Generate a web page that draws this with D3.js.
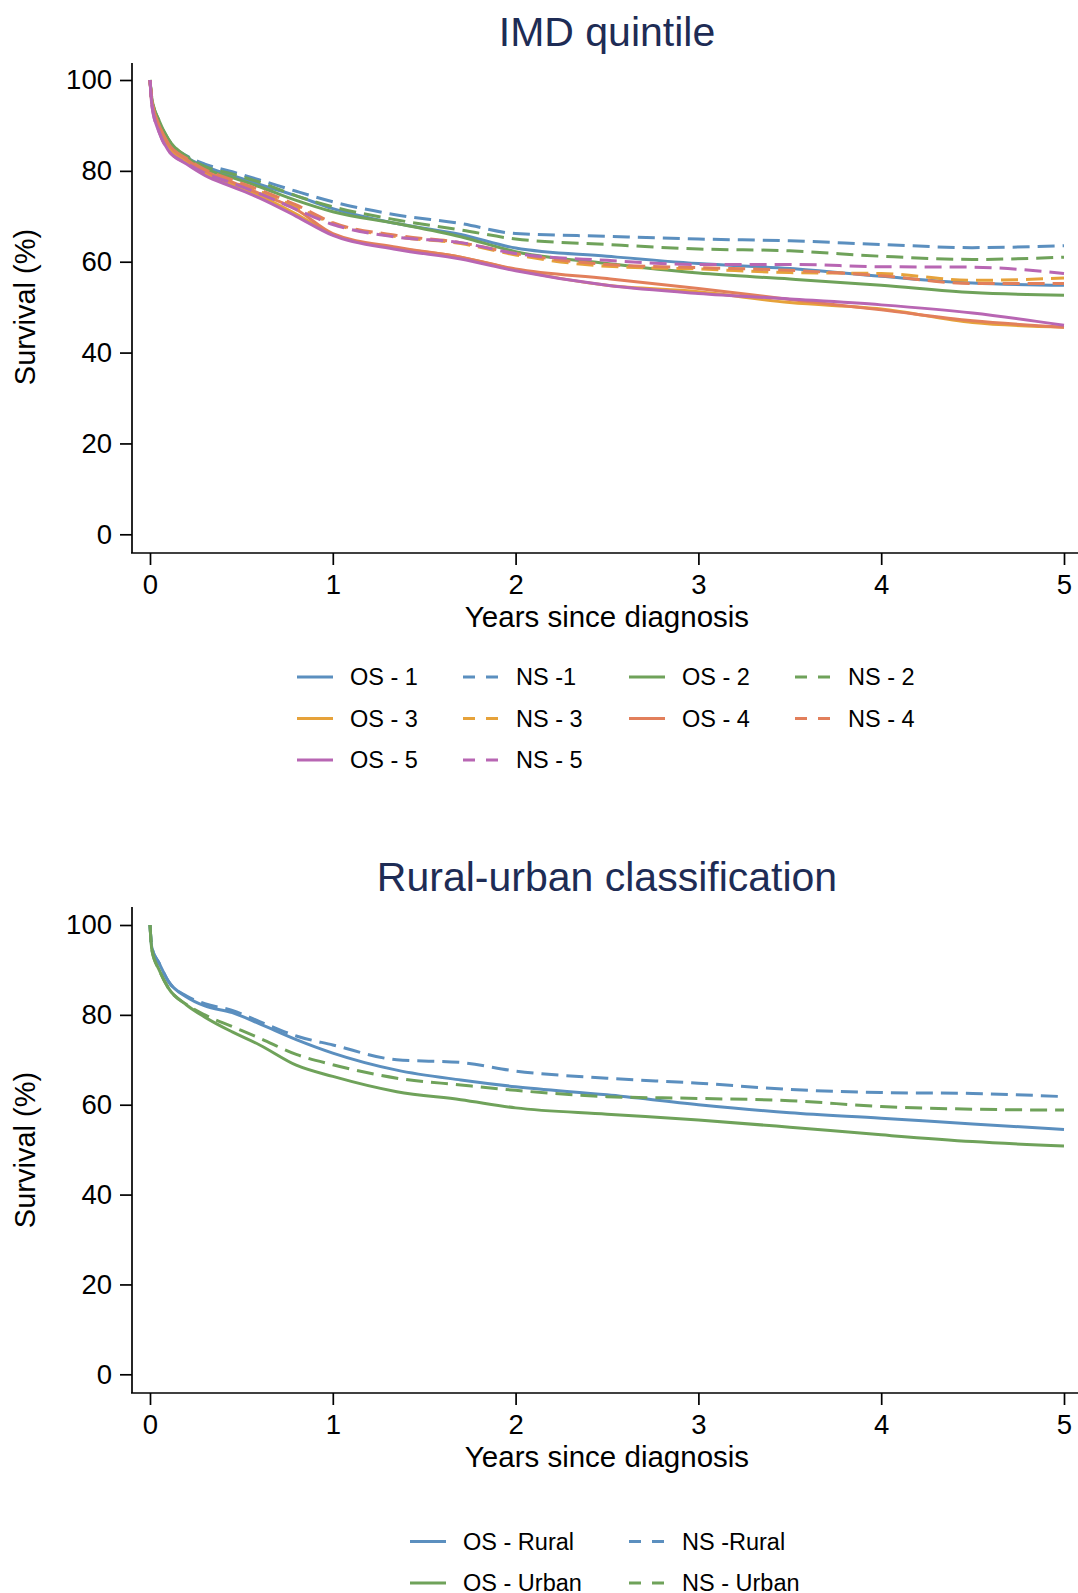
<!DOCTYPE html>
<html>
<head>
<meta charset="utf-8">
<script src="https://cdn.jsdelivr.net/npm/d3@7"></script>
<style>
  body { margin: 0; background: #fff; }
  svg { display: block; font-family: "Liberation Sans", Arial, Helvetica, sans-serif; }
</style>
</head>
<body>
<svg id="chart" width="1078" height="1593"></svg>
<script>
var years = [0, 0.01, 0.05, 0.1, 0.2, 0.3, 0.45, 0.6, 0.8, 1, 1.35, 1.7, 2, 2.5, 3, 3.5, 4, 4.5, 5];

// IMD quintile: overall (OS) and net (NS) survival, %
var os1 = [100, 95.5, 90.5, 86.5, 83, 81, 79, 77, 74.5, 71.7, 68.4, 66, 63, 61.2, 59.6, 58.5, 56.8, 55.3, 54.8];
var ns1 = [100, 95.5, 90.5, 86.5, 83.3, 81.5, 79.8, 78, 75.5, 73.2, 70.3, 68.4, 66.2, 65.6, 65.0, 64.6, 63.8, 63.1, 63.5];
var os2 = [100, 96, 91, 87, 83, 80.5, 78.5, 76.5, 73.5, 71, 68.4, 65.5, 62.2, 59.6, 57.5, 56.2, 54.8, 53.2, 52.6];
var ns2 = [100, 96, 91, 87, 83.2, 81, 79.3, 77.5, 74.5, 72.1, 69.2, 67, 65, 63.8, 62.8, 62.4, 61.2, 60.5, 61.0];
var os3 = [100, 95, 89.5, 85.5, 82, 79.5, 77, 74.5, 70.5, 66, 63, 61, 58.2, 54.8, 53.4, 51.0, 49.6, 46.6, 45.6];
var ns3 = [100, 95, 89.5, 85.5, 82.2, 80, 77.5, 75.5, 72, 68.4, 65.5, 64, 61.5, 59.0, 58.4, 57.6, 57.4, 55.9, 56.4];
var os4 = [100, 95.5, 90, 86, 82.5, 80, 77.5, 75, 71.5, 66.2, 63.2, 61, 58.4, 56.3, 54.1, 51.7, 49.4, 47.0, 45.6];
var ns4 = [100, 95.5, 90, 86, 82.7, 80.3, 78, 75.8, 72.5, 68.6, 65.8, 64.2, 61.8, 59.4, 58.7, 58.1, 56.9, 55.2, 55.2];
var os5 = [100, 94.5, 88.5, 84.5, 81.5, 79, 76.5, 74, 70, 65.8, 62.7, 60.6, 58, 54.8, 53.0, 51.8, 50.5, 48.7, 46.0];
var ns5 = [100, 94.5, 88.5, 84.5, 81.7, 79.5, 77.3, 75, 71.5, 68.2, 65.4, 64.2, 61.8, 60.3, 59.4, 59.4, 58.9, 58.8, 57.4];

// rural-urban classification
var osRural = [100, 95, 91.5, 87.5, 84, 82, 80.5, 78, 74.5, 71.5, 67.7, 65.5, 64, 62.2, 60.0, 58.2, 57.0, 55.7, 54.5];
var nsRural = [100, 95, 91.5, 87.5, 84.2, 82.5, 81, 78.5, 75.3, 73.3, 70.0, 69.4, 67.5, 65.9, 64.8, 63.4, 62.7, 62.5, 61.8];
var osUrban = [100, 94.5, 90, 86, 82.2, 79.5, 76.2, 73.3, 68.8, 66.3, 62.9, 61.1, 59.3, 57.9, 56.6, 55.0, 53.3, 51.8, 50.8];
var nsUrban = [100, 94.5, 90, 86, 82.3, 80, 77.4, 74.8, 71.2, 68.9, 65.9, 64.4, 63.2, 61.8, 61.4, 60.9, 59.6, 59.0, 58.8];

var xTicks = [0, 1, 2, 3, 4, 5];
var yTicks = [0, 20, 40, 60, 80, 100];

var imdLabels = ["OS - 1", "NS -1", "OS - 2", "NS - 2", "OS - 3", "NS - 3", "OS - 4", "NS - 4", "OS - 5", "NS - 5"];
var ruralLabels = ["OS - Rural", "NS -Rural", "OS - Urban", "NS - Urban"];

var blue = "#5b8fbf", green = "#6fa25a", orange = "#e6a23a", red = "#e27f5b", purple = "#b866b3";

var svg = d3.select("#chart");

function drawPanel(p) {
    var g = svg.append("g").attr("transform", "translate(0," + p.dy + ")");

    var x = d3.scaleLinear().domain([0, 5]).range([150, 1064]);
    var y = d3.scaleLinear().domain([0, 100]).range([p.y0, p.y100]);

    // title
    g.append("text").attr("x", 607).attr("y", p.titleY)
        .attr("text-anchor", "middle").attr("font-size", 41).attr("fill", "#1e2c55")
        .text(p.title);

    // axes lines
    g.append("line").attr("x1", 132).attr("x2", 132).attr("y1", p.axisTop).attr("y2", 553)
        .attr("stroke", "#000").attr("stroke-width", 1.7);
    g.append("line").attr("x1", 131).attr("x2", 1078).attr("y1", 553).attr("y2", 553)
        .attr("stroke", "#000").attr("stroke-width", 1.7);

    var ya = g.append("g").attr("transform", "translate(132,0)")
        .call(d3.axisLeft(y).tickValues(yTicks).tickSize(12).tickPadding(8).tickFormat(d3.format("d")));
    var xa = g.append("g").attr("transform", "translate(0,553)")
        .call(d3.axisBottom(x).tickValues(xTicks).tickSize(12).tickPadding(9).tickFormat(d3.format("d")));
    [ya, xa].forEach(function(a) {
        a.select(".domain").remove();
        a.selectAll("line").attr("stroke", "#000").attr("stroke-width", 1.7);
        a.selectAll("text").attr("font-size", 27.5).attr("fill", "#000")
            .attr("font-family", "Liberation Sans, Arial, sans-serif");
    });

    // axis titles
    g.append("text").attr("transform", "translate(35," + p.yTitleY + ") rotate(-90)")
        .attr("text-anchor", "middle").attr("font-size", 29).text("Survival (%)");
    g.append("text").attr("x", 607).attr("y", 627)
        .attr("text-anchor", "middle").attr("font-size", 29.5).text("Years since diagnosis");

    // curves
    var line = d3.line()
        .x(function(d) { return x(d[0]); })
        .y(function(d) { return y(d[1]); })
        .curve(d3.curveMonotoneX);

    p.series.forEach(function(s) {
        g.append("path")
            .datum(years.map(function(t, i) { return [t, s.values[i]]; }))
            .attr("d", line)
            .attr("fill", "none")
            .attr("stroke", s.color)
            .attr("stroke-width", 3)
            .attr("stroke-dasharray", s.dashed ? "17,8" : null);
    });

    // legend
    p.series.forEach(function(s, i) {
        var col = i % p.cols, row = Math.floor(i / p.cols);
        var lx = p.legX + col * p.legStep, ly = p.legY + row * 41.5;
        g.append("line").attr("x1", lx).attr("x2", lx + 36).attr("y1", ly).attr("y2", ly)
            .attr("stroke", s.color).attr("stroke-width", 3)
            .attr("stroke-dasharray", s.dashed ? "12,11" : null);
        g.append("text").attr("x", lx + 53).attr("y", ly + 8)
            .attr("font-size", 23.5).text(s.label);
    });
}

var imdValues = [os1, ns1, os2, ns2, os3, ns3, os4, ns4, os5, ns5];
var imdColors = [blue, blue, green, green, orange, orange, red, red, purple, purple];

drawPanel({
    dy: 0, title: "IMD quintile", titleY: 46, axisTop: 63, y0: 534.3, y100: 80,
    yTitleY: 307, cols: 4, legX: 297, legStep: 166, legY: 677,
    series: imdValues.map(function(v, i) {
        return { values: v, color: imdColors[i], dashed: i % 2 === 1, label: imdLabels[i] };
    })
});

var ruralValues = [osRural, nsRural, osUrban, nsUrban];
var ruralColors = [blue, blue, green, green];

drawPanel({
    dy: 840, title: "Rural-urban classification", titleY: 51, axisTop: 67, y0: 534.3, y100: 85,
    yTitleY: 310, cols: 2, legX: 410, legStep: 219, legY: 701.5,
    series: ruralValues.map(function(v, i) {
        return { values: v, color: ruralColors[i], dashed: i % 2 === 1, label: ruralLabels[i] };
    })
});
</script>
</body>
</html>
